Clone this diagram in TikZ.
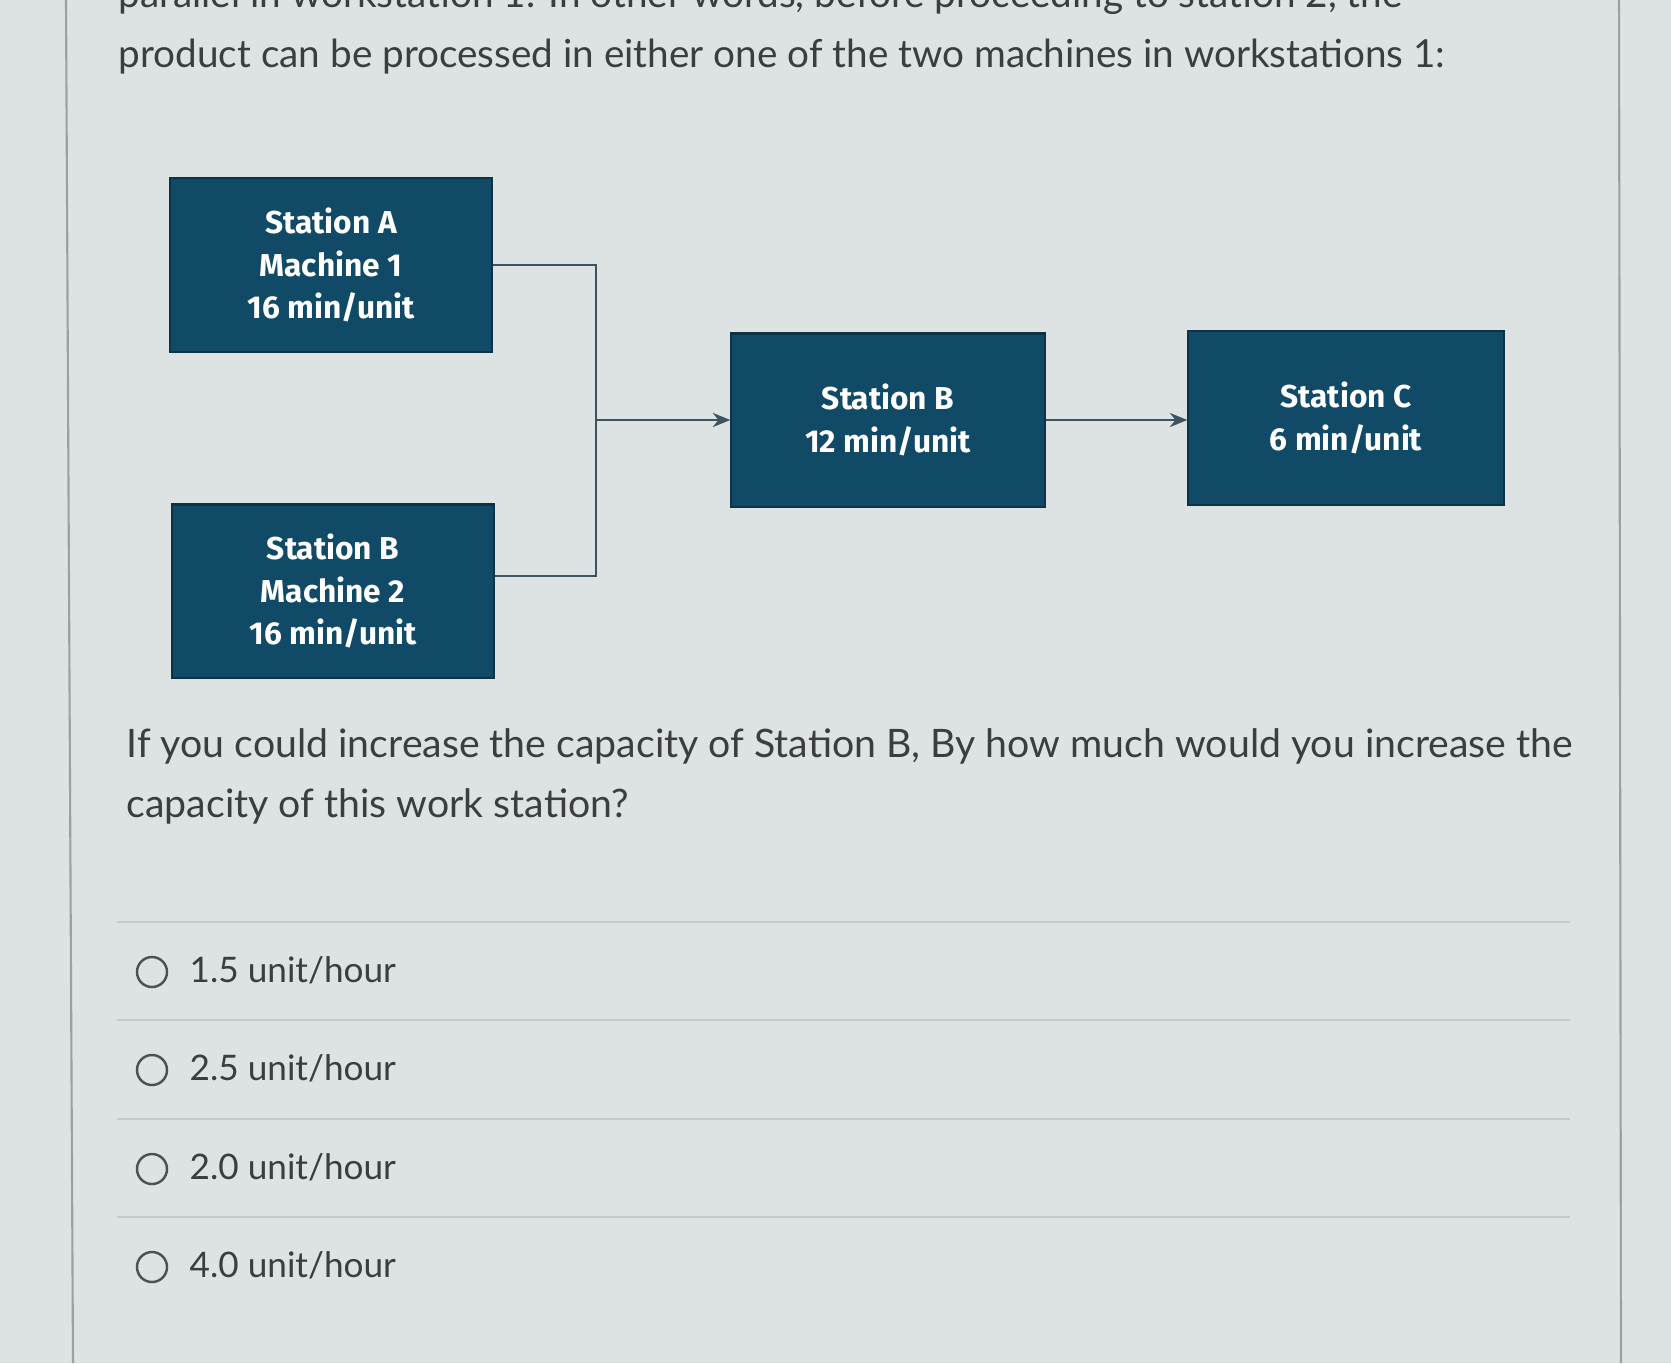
\documentclass[tikz,border=0pt]{standalone}
\usepackage{fontspec}
\setmainfont{Lato}
\newfontfamily\boxfont{Fira Sans}
\usetikzlibrary{arrows.meta}
\definecolor{QBack}{HTML}{DDE3E2}
\definecolor{QRule}{HTML}{9AA1A1}
\definecolor{QSep}{HTML}{C4CBCA}
\definecolor{QText}{HTML}{3B3D3E}
\definecolor{QBox}{HTML}{114A66}
\definecolor{QWire}{HTML}{3E5360}

\tikzset{
  station/.style={fill=QBox,draw=QBox!70!black,line width=0.6pt,text=white,align=center,
    font=\boxfont\bfseries\fontsize{9}{12}\selectfont,inner sep=0pt},
  wire/.style={QWire,line width=0.8pt},
  qline/.style={anchor=base west,text=QText,inner sep=0pt,font=\fontsize{11}{14}\selectfont},
  radio/.style={circle,draw=QText!90,line width=0.7pt,minimum size=0.30cm,inner sep=0pt},
  option/.style={anchor=base west,text=QText,inner sep=0pt,font=\fontsize{10}{12}\selectfont},
}

\begin{document}
\begin{tikzpicture}[x=0.01cm,y=-0.01cm]
\path[use as bounding box] (0,0) rectangle (1671,1363);
\fill[QBack] (0,0) rectangle (1671,1363);
\draw[QRule,line width=0.6pt] (66,0) -- (73,1363);
\draw[QRule,line width=0.6pt] (1619,0) -- (1621,1363);
% question text
\begin{scope}
\clip (0,0) rectangle (1671,1363);
\node[qline] (top) at (118,7) {parallel in workstation 1. In other words, before proceeding to station 2, the};
\end{scope}
\node[qline] (intro) at (118,67) {product can be processed in either one of the two machines in workstations 1:};
% stations
\node[station,minimum width=3.22cm,minimum height=1.74cm] (sa) at (331,265) {Station A\\Machine 1\\16 min/unit};
\node[station,minimum width=3.21cm,minimum height=1.73cm] (m2) at (333,591) {Station B\\Machine 2\\16 min/unit};
\node[station,minimum width=3.13cm,minimum height=1.73cm] (sb) at (888,420) {Station B\\12 min/unit};
\node[station,minimum width=3.15cm,minimum height=1.74cm] (sc) at (1346,418) {Station C\\6 min/unit};
\coordinate (join) at (596,420);
\draw[wire] (sa.east) -| (join);
\draw[wire] ([yshift=0.15cm]m2.east) -| (join);
\draw[wire,-{Stealth[length=5pt,width=4pt]}] (join) -- (sb.west);
\draw[wire,-{Stealth[length=5pt,width=4pt]}] (sb.east) -- (sb.east -| sc.west);
% question
\node[qline,font=\fontsize{11.15}{14}\selectfont] (ask1) at (126,757) {If you could increase the capacity of Station B, By how much would you increase the};
\node[qline,font=\fontsize{11.15}{14}\selectfont] (ask2) at (126,817) {capacity of this work station?};
% answers
\foreach \yy/\val [count=\i] in {972/1.5,1070/2.5,1169/2.0,1267/4.0}{
  \draw[QSep,line width=0.5pt] (117,\yy-50) -- (1570,\yy-50);
  \node[radio] (r\i) at (152,\yy) {};
  \node[option] (o\i) at (189,\yy+10) {\val\ unit/hour};
}
\end{tikzpicture}
\end{document}
